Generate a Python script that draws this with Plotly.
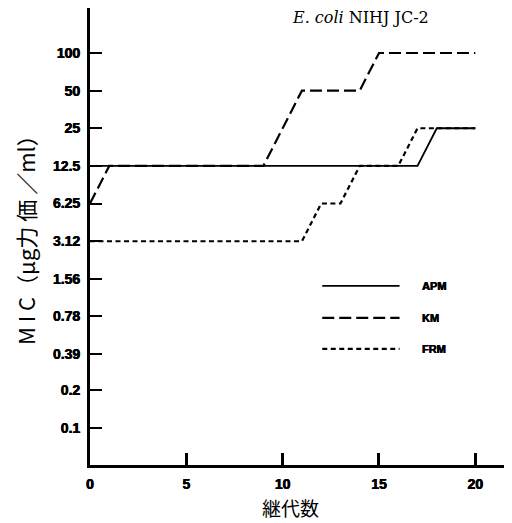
import plotly.graph_objects as go

generations = list(range(0, 21))
apm = [12.5]*18 + [25]*3
km = [6.25] + [12.5]*9 + [25] + [50]*4 + [100]*6
frm = [3.12]*12 + [6.25]*2 + [12.5]*3 + [25]*4

y_ticks = [100, 50, 25, 12.5, 6.25, 3.12, 1.56, 0.78, 0.39, 0.2, 0.1]
y_tick_labels = ["100", "50", "25", "12.5", "6.25", "3.12", "1.56", "0.78", "0.39", "0.2", "0.1"]
x_ticks = [0, 5, 10, 15, 20]
x_tick_labels = ["0", "5", "10", "15", "20"]

series = [
    ("APM", apm, "solid", 1.8),
    ("KM", km, "12px,5px", 2.2),
    ("FRM", frm, "5px,3.5px", 2.2),
]

fig = go.Figure()
for name, vals, dash, w in series:
    fig.add_trace(go.Scatter(x=generations, y=vals, mode="lines", name=name,
                             line=dict(color="black", width=w, dash=dash),
                             showlegend=False))

heavy = "0.4px 0px 0px black, -0.3px 0px 0px black"

# custom legend
leg_y = [0.392, 0.322, 0.254]
for (name, vals, dash, w), yy in zip(series, leg_y):
    fig.add_shape(type="line", xref="paper", yref="paper", x0=0.553, x1=0.737, y0=yy, y1=yy,
                  line=dict(color="black", width=w, dash=dash))
    fig.add_annotation(xref="paper", yref="paper", x=0.785, y=yy, text=name,
                       showarrow=False, xanchor="left", yanchor="middle",
                       font=dict(family="Liberation Sans", size=11, color="black",
                                 weight="bold", shadow=heavy))

fig.add_annotation(xref="paper", yref="paper", x=0.643, y=1.0, text="<i>E. coli</i> NIHJ JC-2",
                   showarrow=False, xanchor="center", yanchor="top", yshift=2,
                   font=dict(family="DejaVu Serif", size=16, color="black"))

fig.add_annotation(xref="paper", yref="paper", x=-0.155, y=0.505,
                   text="M I C（μg力 価 ／ml）", textangle=-90, showarrow=False,
                   xanchor="center", yanchor="middle",
                   font=dict(family="Noto Sans CJK JP", size=22, color="black"))

fig.add_annotation(xref="paper", yref="paper", x=0.478, y=0, yshift=-42,
                   text="継代数", showarrow=False, xanchor="center", yanchor="middle",
                   font=dict(family="Noto Sans CJK JP", size=19, color="black"))

tick_font = dict(family="Liberation Sans", size=14, color="black", weight="bold", shadow=heavy)
fig.update_layout(
    width=504, height=515,
    margin=dict(l=82, r=2, t=0, b=58),
    paper_bgcolor="white", plot_bgcolor="white",
    xaxis=dict(range=[0, 21.8], tickvals=x_ticks, ticktext=x_tick_labels,
               ticks="inside", ticklen=12, tickwidth=2.5, ticklabelstandoff=4,
               tickcolor="black", showline=True, linewidth=3, linecolor="black",
               showgrid=False, zeroline=False, tickfont=tick_font),
    yaxis=dict(type="log", range=[-1.296, 2.36], tickvals=y_ticks, ticktext=y_tick_labels,
               ticks="inside", ticklen=12, tickwidth=2, tickcolor="black",
               showline=True, linewidth=3, linecolor="black", showgrid=False, zeroline=False,
               ticklabelstandoff=4, tickfont=tick_font),
)

fig.write_html("out.html")
